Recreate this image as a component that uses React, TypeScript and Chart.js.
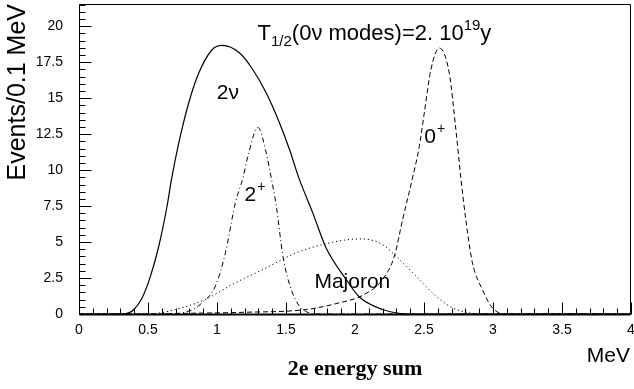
import React, { useEffect, useRef } from "react";
import { Chart, registerables } from "chart.js";

Chart.register(...registerables);

// 2 nu (solid)
const twoNuX = [0, 0.313, 0.36, 0.398, 0.458, 0.518, 0.578, 0.638, 0.67, 0.723, 0.795, 0.868, 0.964, 1.038, 1.164, 1.26, 1.357, 1.453, 1.526, 1.593, 1.694, 1.79, 1.936, 2.03, 2.2, 2.39, 4];
const twoNuY = [0, 0, 0.08, 0.31, 1.13, 2.63, 4.71, 7.49, 9.34, 11.89, 14.67, 16.75, 18.37, 18.67, 18.14, 16.98, 15.36, 13.28, 11.42, 9.46, 7.03, 4.6, 2.4, 1.2, 0.31, 0, 0];

// 2+ (dash-dot)
const twoPlusX = [0, 0.6, 0.795, 0.892, 0.988, 1.061, 1.133, 1.188, 1.224, 1.296, 1.357, 1.393, 1.43, 1.478, 1.538, 1.622, 1.75, 4];
const twoPlusY = [0, 0, 0.19, 0.78, 1.93, 4.25, 7.72, 9.46, 10.96, 12.97, 11.19, 9.46, 7.49, 4.01, 1.7, 0.31, 0, 0];

// 0+ (dashed)
const zeroPlusX = [0, 0.5, 0.8, 1.2, 1.646, 1.887, 2.056, 2.2, 2.285, 2.345, 2.417, 2.466, 2.502, 2.55, 2.61, 2.683, 2.731, 2.767, 2.803, 2.851, 2.923, 2.996, 3.09, 4];
const zeroPlusY = [0, 0, 0.05, 0.12, 0.31, 0.78, 1.3, 2.4, 4.01, 6.56, 9.46, 11.65, 13.97, 16.98, 18.49, 16.75, 12.81, 9.46, 6.56, 3.56, 1.7, 0.43, 0, 0];

// Majoron (dotted)
const majoronX = [0, 0.506, 0.699, 0.916, 1.133, 1.333, 1.574, 1.815, 2.032, 2.104, 2.2, 2.297, 2.466, 2.586, 2.706, 2.827, 2.9, 4];
const majoronY = [0, 0, 0.31, 1.01, 2.17, 3.09, 4.25, 4.94, 5.22, 5.17, 4.83, 4.01, 2.4, 1.24, 0.43, 0.08, 0, 0];

const X_MIN = 0;
const X_MAX = 4;
const Y_MIN = 0;
const Y_MAX = 21.55;

const SANS = "'Liberation Sans', Arial, sans-serif";

const zeroPad = (s: any) => {
  s.paddingTop = 0;
  s.paddingBottom = 0;
  s.paddingLeft = 0;
  s.paddingRight = 0;
};

export default function App() {
  const ref = useRef<HTMLCanvasElement>(null);

  useEffect(() => {
    const canvas = ref.current;
    if (!canvas) return;
    const pts = (xs: number[], ys: number[]) => xs.map((x, i) => ({ x, y: ys[i] }));

    const rootPlugin = {
      id: "rootFrame",
      afterDatasetsDraw(chart: any) {
        const { ctx, chartArea: a, scales } = chart;
        const xs = scales.x;
        const ys = scales.y;
        ctx.save();
        ctx.setLineDash([]);
        ctx.strokeStyle = "#000";
        ctx.lineWidth = 1;
        // frame
        const L = Math.round(a.left) + 0.5;
        const T = Math.round(a.top) + 0.5;
        const R = Math.round(a.right) - 0.5;
        const B = Math.round(a.bottom) + 0.5;
        ctx.beginPath();
        ctx.moveTo(L, B);
        ctx.lineTo(L, T);
        ctx.lineTo(R, T);
        ctx.lineTo(R, B);
        ctx.stroke();
        ctx.lineWidth = 2;
        ctx.beginPath();
        ctx.moveTo(L, B);
        ctx.lineTo(R, B);
        ctx.stroke();
        ctx.lineWidth = 1;
        // x ticks
        ctx.beginPath();
        for (let i = 0; i <= 40; i++) {
          const v = X_MIN + i * 0.1;
          const p = Math.round(xs.getPixelForValue(v)) + 0.5;
          const len = i % 5 === 0 ? 12 : 6;
          ctx.moveTo(p, B);
          ctx.lineTo(p, B - len);
        }
        // y ticks
        for (let i = 0; i * 0.5 <= Y_MAX; i++) {
          const v = Y_MIN + i * 0.5;
          const p = Math.round(ys.getPixelForValue(v)) + 0.5;
          const len = i % 5 === 0 ? 12 : 6;
          ctx.moveTo(L, p);
          ctx.lineTo(L + len, p);
        }
        ctx.stroke();

        // annotations
        ctx.fillStyle = "#000";
        ctx.textAlign = "left";
        ctx.textBaseline = "alphabetic";
        const big = `21px ${SANS}`;
        const small = `14px ${SANS}`;
        const tBig = `22px ${SANS}`;
        const tSmall = `15px ${SANS}`;
        const X = (v: number) => xs.getPixelForValue(v);
        const Y = (v: number) => ys.getPixelForValue(v);

        // title
        let tx = X(1.294);
        const ty = Y(19.06);
        const seg = (t: string, font: string, dy: number) => {
          ctx.font = font;
          ctx.fillText(t, tx, ty + dy);
          tx += ctx.measureText(t).width;
        };
        seg("T", tBig, 0);
        seg("1/2", tSmall, 6);
        seg("(0\u03bd modes)=2. 10", tBig, 0);
        seg("19", tSmall, -9.5);
        seg("y", tBig, 0);

        // 2nu
        ctx.font = big;
        ctx.fillText("2\u03bd", X(0.998), Y(14.97));
        // 2+
        ctx.fillText("2", X(1.2), Y(7.83));
        let w = ctx.measureText("2").width;
        ctx.font = small;
        ctx.fillText("+", X(1.2) + w + 1, Y(7.83) - 10);
        // 0+
        ctx.font = big;
        ctx.fillText("0", X(2.502), Y(11.89));
        w = ctx.measureText("0").width;
        ctx.font = small;
        ctx.fillText("+", X(2.502) + w + 1, Y(11.89) - 10);
        // Majoron
        ctx.font = big;
        ctx.fillText("Majoron", X(1.706), Y(1.84));
        // MeV
        ctx.textAlign = "right";
        ctx.fillText("MeV", a.right - 1, 362);
        ctx.restore();
      },
    };

    const mk = (label: string, xs: number[], ys: number[], dash: number[], width: number) => ({
      label,
      data: pts(xs, ys),
      borderColor: "#000",
      borderWidth: width,
      borderDash: dash,
      pointRadius: 0,
      fill: false,
      cubicInterpolationMode: "monotone" as const,
    });

    const fmt = (v: any) => `${Math.round(Number(v) * 100) / 100}`;

    const chart = new Chart(canvas, {
      type: "line",
      data: {
        datasets: [
          mk("2\u03bd", twoNuX, twoNuY, [], 1.2),
          mk("2+", twoPlusX, twoPlusY, [5, 3, 1, 3], 1),
          mk("0+", zeroPlusX, zeroPlusY, [5, 3], 1),
          mk("Majoron", majoronX, majoronY, [1.2, 2.8], 1),
        ],
      },
      options: {
        responsive: false,
        animation: false,
        devicePixelRatio: 1,
        layout: { padding: { left: 0, right: 3, top: 4, bottom: 0 } },
        plugins: { legend: { display: false }, tooltip: { enabled: false } },
        scales: {
          x: {
            type: "linear",
            min: X_MIN,
            max: X_MAX,
            grid: { display: false, drawTicks: false },
            border: { display: false },
            ticks: {
              stepSize: 0.5,
              includeBounds: false,
              maxRotation: 0,
              autoSkip: false,
              padding: 8,
              color: "#000",
              font: { family: SANS, size: 14 },
              callback: fmt,
            },
            title: {
              display: true,
              text: "2e energy sum",
              color: "#000",
              font: { family: "'Liberation Serif', 'Times New Roman', serif", size: 22, weight: "bold" },
              padding: { top: 0, bottom: 6 },
            },
            afterFit: (s: any) => {
              s.height = 75;
              zeroPad(s);
            },
          },
          y: {
            type: "linear",
            min: Y_MIN,
            max: Y_MAX,
            grid: { display: false, drawTicks: false },
            border: { display: false },
            ticks: {
              stepSize: 2.5,
              includeBounds: false,
              padding: 16,
              color: "#000",
              font: { family: SANS, size: 14 },
              callback: fmt,
            },
            title: {
              display: true,
              text: "Events/0.1 MeV",
              align: "end",
              color: "#000",
              font: { family: SANS, size: 25 },
              padding: { top: 3, bottom: 0 },
            },
            afterFit: (s: any) => {
              s.width = 79;
              zeroPad(s);
            },
          },
        },
      },
      plugins: [rootPlugin],
    });
    return () => chart.destroy();
  }, []);

  return (
    <div style={{ position: "fixed", left: 0, top: 0, width: 634, height: 389, background: "#fff" }}>
      <canvas ref={ref} width={634} height={389} style={{ width: 634, height: 389, display: "block" }} />
    </div>
  );
}
